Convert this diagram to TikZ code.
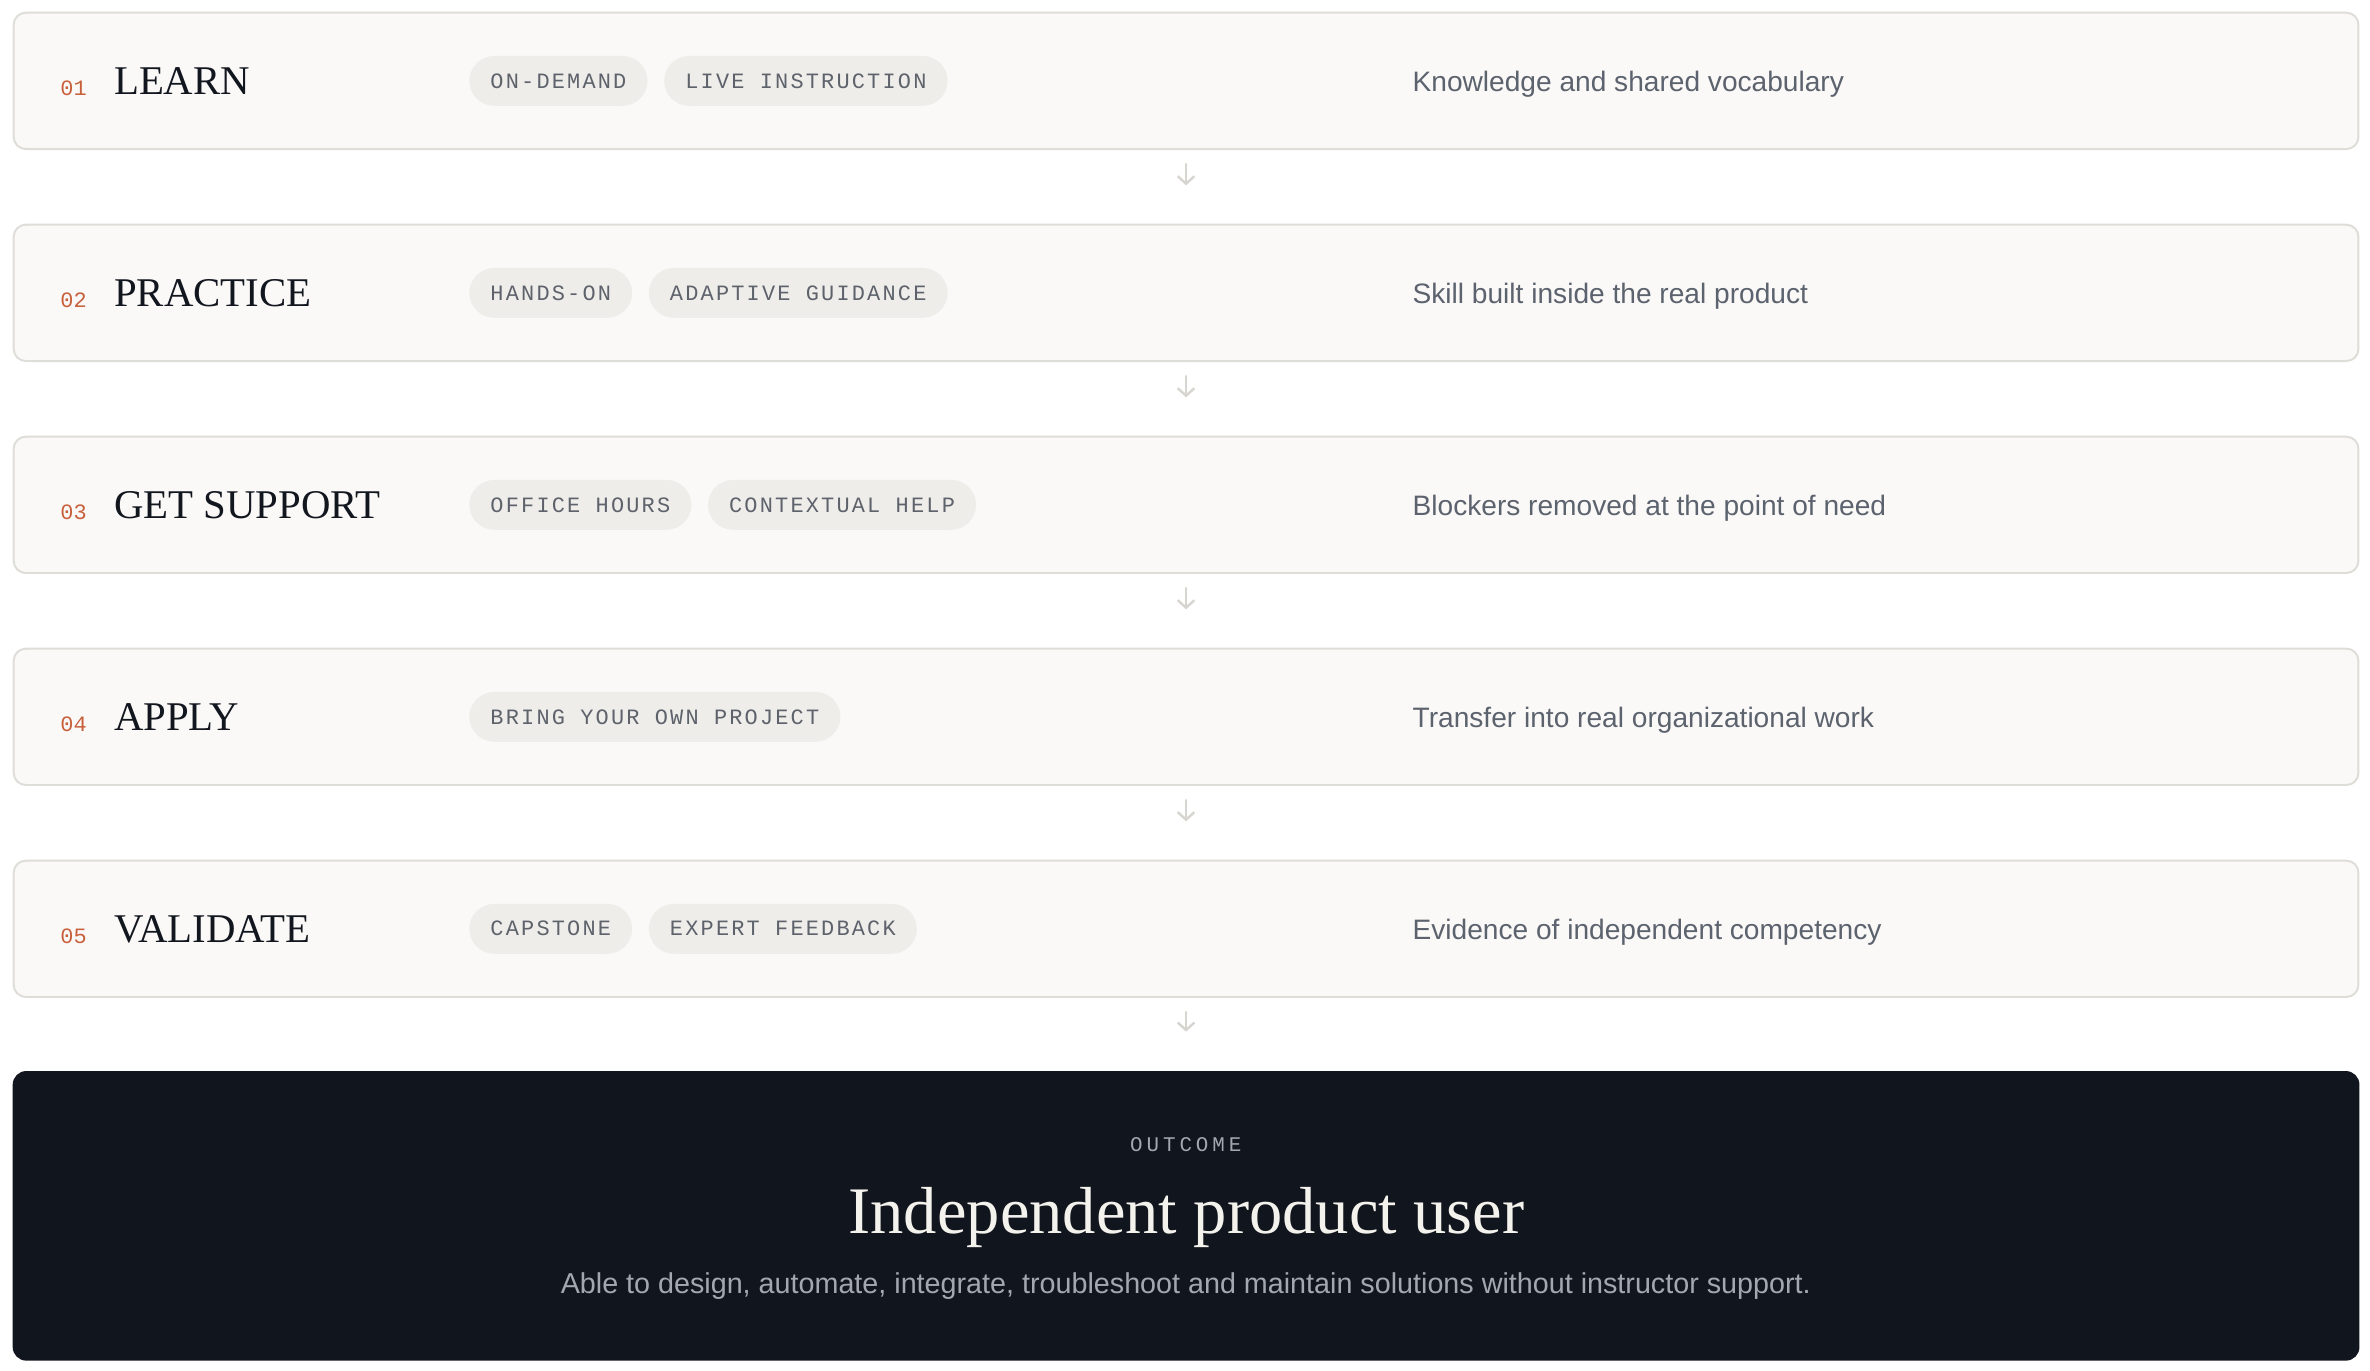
\documentclass[tikz,border=0pt]{standalone}
\usepackage{fontspec}
\setmainfont{Liberation Serif}
\newfontfamily\numfont{Liberation Mono}
\newfontfamily\pillfont[LetterSpace=10]{Liberation Mono}
\newfontfamily\kickerfont[LetterSpace=19]{Liberation Mono}
\newfontfamily\bodyfont{Liberation Sans}
\usepackage{tikz}
\usetikzlibrary{arrows.meta,positioning}
\usepackage{color}

\definecolor{cardfill}{RGB}{250,249,247}
\definecolor{cardline}{RGB}{222,221,216}
\definecolor{pillfill}{RGB}{238,237,234}
\definecolor{pilltext}{RGB}{94,98,107}
\definecolor{stepnum}{RGB}{200,96,60}
\definecolor{ink}{RGB}{18,22,30}
\definecolor{desctext}{RGB}{92,99,110}
\definecolor{flowgray}{RGB}{214,213,208}
\definecolor{outfill}{RGB}{17,21,29}
\definecolor{outtitle}{RGB}{244,242,236}
\definecolor{outsub}{RGB}{163,167,175}

\begin{document}
\begin{tikzpicture}[x=1pt, y=-1pt, outer sep=0pt, node distance=11pt,
  >={Straight Barb[length=5pt,width=11pt]},
  card/.style={draw=cardline, line width=1.3pt, fill=cardfill, rounded corners=8pt,
    minimum width=1551.3pt, minimum height=90.2pt, inner sep=0pt},
  num/.style={anchor=base west, inner sep=0pt, text=stepnum,
    font=\numfont\fontsize{14.5}{17}\selectfont},
  title/.style={anchor=base west, inner sep=0pt, text=ink,
    font=\fontsize{27}{30}\selectfont},
  pill/.style={fill=pillfill, rounded corners=16.5pt, minimum height=33pt,
    inner xsep=14pt, inner ysep=0pt, text height=9.5pt, text depth=0pt,
    text=pilltext, font=\pillfont\fontsize{14.5}{17}\selectfont},
  desc/.style={anchor=base west, inner sep=0pt, text=desctext,
    font=\bodyfont\fontsize{18.6}{22}\selectfont},
  flow/.style={->, line width=1.6pt, draw=flowgray, line cap=round,
    shorten <=10pt, shorten >=26pt}]

\useasboundingbox (0,0) rectangle (1568,907);

% steps
\node[card] at (784.7, 53.5) (CARD_1) {};
\node[num] at (40, 62.9) (NUM_1) {01};
\node[title] at (75.5, 62.4) (TITLE_1) {LEARN};
\node[pill, anchor=west] at (310.5, 53.5) (PILL_1A) {ON-DEMAND};
\node[pill, right=of PILL_1A] (PILL_1B) {LIVE INSTRUCTION};
\node[desc] at (934.6, 60.6) (DESC_1) {Knowledge and shared vocabulary};

\node[card] at (784.7, 193.75) (CARD_2) {};
\node[num] at (40, 203.15) (NUM_2) {02};
\node[title] at (75.5, 202.65) (TITLE_2) {PRACTICE};
\node[pill, anchor=west] at (310.5, 193.75) (PILL_2A) {HANDS-ON};
\node[pill, right=of PILL_2A] (PILL_2B) {ADAPTIVE GUIDANCE};
\node[desc] at (934.6, 200.85) (DESC_2) {Skill built inside the real product};

\node[card] at (784.7, 334) (CARD_3) {};
\node[num] at (40, 343.4) (NUM_3) {03};
\node[title] at (75.5, 342.9) (TITLE_3) {GET SUPPORT};
\node[pill, anchor=west] at (310.5, 334) (PILL_3A) {OFFICE HOURS};
\node[pill, right=of PILL_3A] (PILL_3B) {CONTEXTUAL HELP};
\node[desc] at (934.6, 341.1) (DESC_3) {Blockers removed at the point of need};

\node[card] at (784.7, 474.25) (CARD_4) {};
\node[num] at (40, 483.65) (NUM_4) {04};
\node[title] at (75.5, 483.15) (TITLE_4) {APPLY};
\node[pill, anchor=west] at (310.5, 474.25) (PILL_4A) {BRING YOUR OWN PROJECT};
\node[desc] at (934.6, 481.35) (DESC_4) {Transfer into real organizational work};

\node[card] at (784.7, 614.5) (CARD_5) {};
\node[num] at (40, 623.9) (NUM_5) {05};
\node[title] at (75.5, 623.4) (TITLE_5) {VALIDATE};
\node[pill, anchor=west] at (310.5, 614.5) (PILL_5A) {CAPSTONE};
\node[pill, right=of PILL_5A] (PILL_5B) {EXPERT FEEDBACK};
\node[desc] at (934.6, 621.6) (DESC_5) {Evidence of independent competency};

% outcome
\node[fill=outfill, rounded corners=9pt, minimum width=1552.6pt, minimum height=191.6pt,
  inner sep=0pt] at (784.7, 804.4) (OUTCOME) {};
\node[anchor=base, inner sep=0pt, text=outsub, font=\kickerfont\fontsize{13.8}{16}\selectfont]
  at (784.5, 761.5) (OUT_LABEL) {OUTCOME};
\node[anchor=base, inner sep=0pt, text=outtitle, font=\fontsize{44}{50}\selectfont]
  at (785, 815.9) (OUT_TITLE) {Independent product user};
\node[anchor=base, inner sep=0pt, text=outsub, font=\bodyfont\fontsize{19}{22}\selectfont]
  at (784.5, 855.7) (OUT_TEXT) {Able to design, automate, integrate, troubleshoot and maintain solutions without instructor support.};

\draw [flow] (CARD_1) -- (CARD_2);
\draw [flow] (CARD_2) -- (CARD_3);
\draw [flow] (CARD_3) -- (CARD_4);
\draw [flow] (CARD_4) -- (CARD_5);
\draw [flow] (CARD_5) -- (OUTCOME);
\end{tikzpicture}
\end{document}
